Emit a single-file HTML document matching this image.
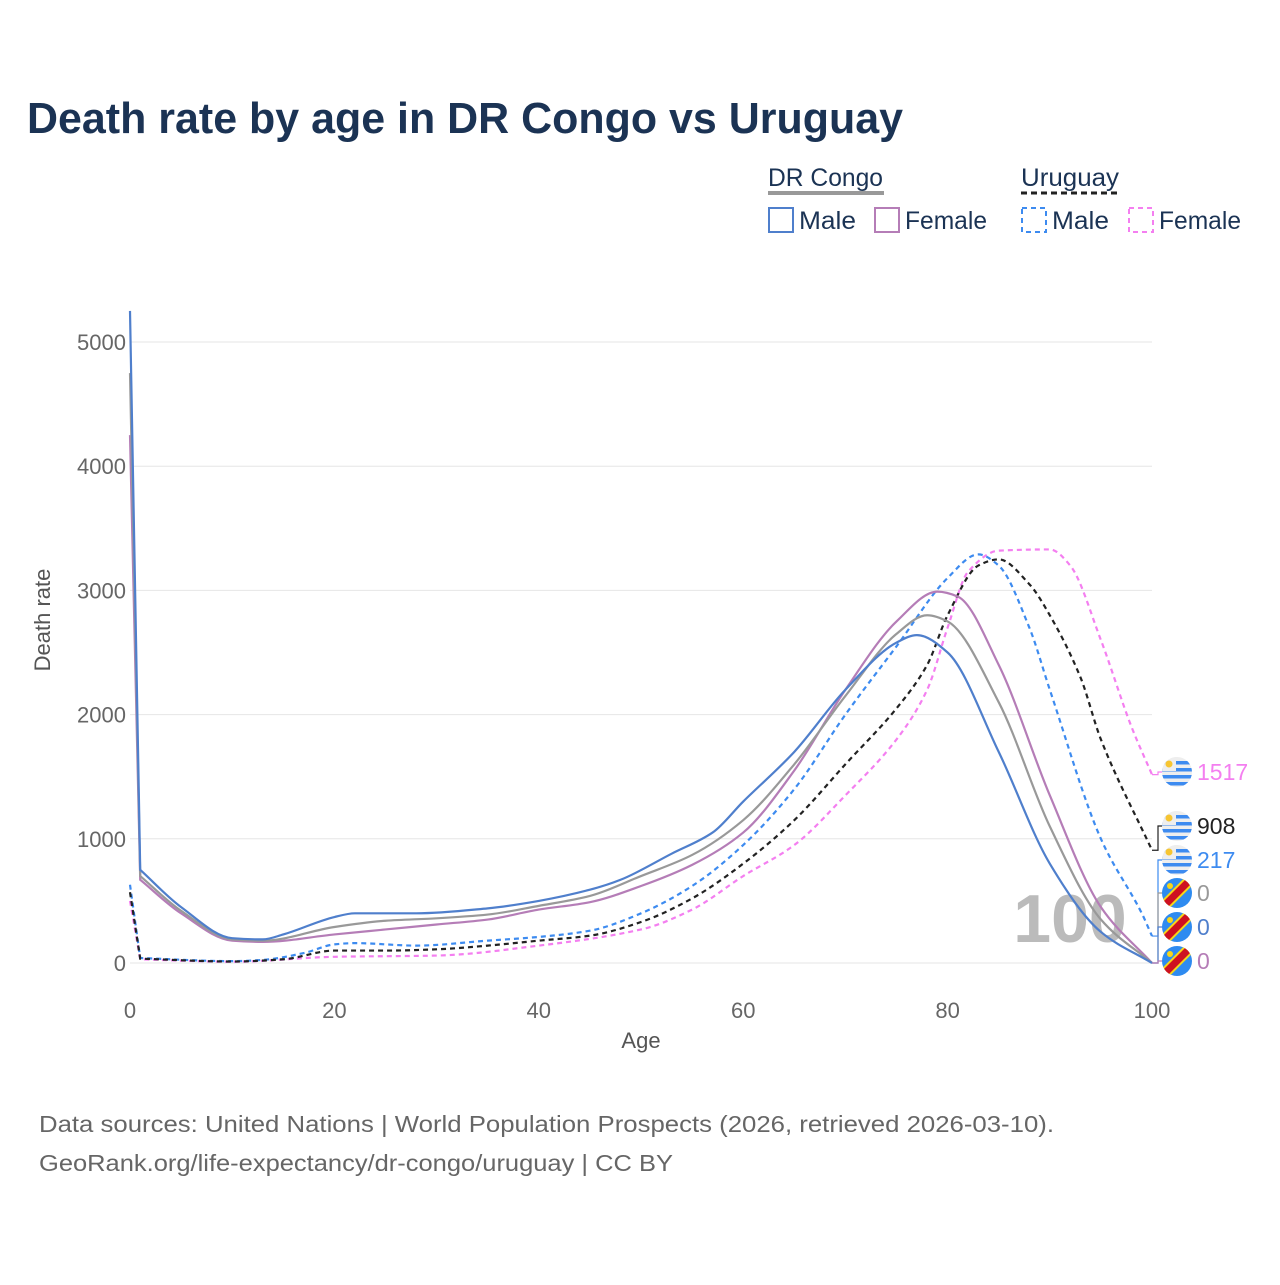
<!DOCTYPE html>
<html><head><meta charset="utf-8">
<style>
body{margin:0;background:#fff;font-family:"Liberation Sans",sans-serif;}
svg text{font-family:"Liberation Sans",sans-serif;}
</style></head>
<body>
<svg id="chart" width="1280" height="1280" xmlns="http://www.w3.org/2000/svg">
<defs id="defs"></defs>
<text x="27" y="133" font-size="44" font-weight="bold" fill="#1b3354" textLength="876" lengthAdjust="spacingAndGlyphs">Death rate by age in DR Congo vs Uruguay</text>
<g font-size="25" fill="#1b3354">
<text x="768" y="186" textLength="115" lengthAdjust="spacingAndGlyphs">DR Congo</text>
<line x1="768" y1="193" x2="884" y2="193" stroke="#999" stroke-width="4"/>
<text x="1021" y="186" textLength="98" lengthAdjust="spacingAndGlyphs">Uruguay</text>
<line x1="1021" y1="193" x2="1119" y2="193" stroke="#222" stroke-width="3" stroke-dasharray="6,4"/>
<g><rect x="769" y="208" width="24" height="24" fill="none" stroke="#4f7fcc" stroke-width="2"/><text x="799" y="229" textLength="57" lengthAdjust="spacingAndGlyphs">Male</text></g>
<g><rect x="875" y="208" width="24" height="24" fill="none" stroke="#b57db7" stroke-width="2"/><text x="905" y="229" textLength="82" lengthAdjust="spacingAndGlyphs">Female</text></g>
<g><rect x="1022" y="208" width="24" height="24" fill="none" stroke="#3d8bf0" stroke-width="2" stroke-dasharray="5,4"/><text x="1052" y="229" textLength="57" lengthAdjust="spacingAndGlyphs">Male</text></g>
<g><rect x="1129" y="208" width="24" height="24" fill="none" stroke="#f47ff0" stroke-width="2" stroke-dasharray="5,4"/><text x="1159" y="229" textLength="82" lengthAdjust="spacingAndGlyphs">Female</text></g>
</g>
<g id="grid"></g>
<text x="1070" y="942" font-size="68" font-weight="bold" fill="#bbb" text-anchor="middle">100</text>
<g id="series"></g>
<g id="labels"></g>
<text transform="translate(50,620) rotate(-90)" font-size="22" fill="#555" text-anchor="middle">Death rate</text>
<text x="641" y="1048" font-size="22" fill="#555" text-anchor="middle">Age</text>
<text x="39" y="1132" font-size="23" fill="#666" textLength="1015" lengthAdjust="spacingAndGlyphs">Data sources: United Nations | World Population Prospects (2026, retrieved 2026-03-10).</text>
<text x="39" y="1171" font-size="23" fill="#666" textLength="634" lengthAdjust="spacingAndGlyphs">GeoRank.org/life-expectancy/dr-congo/uruguay | CC BY</text>
</svg>
<script>
const yTicks=[0,1000,2000,3000,4000,5000];
const xTicks=[0,20,40,60,80,100];
const drcMaleAges=[0,1,5,10,13,15,20,22,28,35,40,45,48,53,57,60,65,70,75,77,80,85,90,95,100];
const drcMaleVals=[5250,750,450,200,190,230,370,400,400,440,500,590,670,880,1050,1300,1700,2200,2580,2640,2500,1700,800,250,0];
const drcTotalAges=[0,1,5,10,13,20,25,30,35,40,45,50,55,60,65,70,75,78,80,85,90,95,100];
const drcTotalVals=[4750,700,420,190,180,290,340,360,390,460,540,700,870,1150,1600,2150,2650,2800,2750,2100,1100,350,0];
const drcFemaleAges=[0,1,5,10,13,20,25,30,35,40,45,50,55,60,65,70,75,79,81,85,90,95,100];
const drcFemaleVals=[4250,670,400,180,170,230,270,310,350,430,490,620,790,1050,1550,2200,2750,2990,2950,2400,1350,450,0];
const uyMaleAges=[0,1,10,13,17,20,22,28,35,40,45,50,55,60,65,70,75,80,83,85,88,90,95,99,100];
const uyMaleVals=[630,40,15,25,80,150,160,140,180,210,260,400,620,950,1400,2000,2550,3100,3290,3200,2700,2200,1000,400,217];
const uyTotalAges=[0,1,10,15,20,25,30,35,40,45,50,55,60,65,70,75,78,80,83,85,88,90,93,95,100];
const uyTotalVals=[570,35,12,30,100,100,110,140,180,220,330,520,800,1150,1600,2050,2400,2800,3200,3250,3050,2800,2300,1800,908];
const uyFemaleAges=[0,1,10,20,30,40,50,55,60,65,70,75,78,80,82,85,90,92,95,98,100];
const uyFemaleVals=[500,30,10,50,60,140,270,430,700,950,1350,1800,2200,2700,3150,3320,3330,3200,2600,1900,1517];
const endValues=[1517,908,217,0,0,0];

const NS="http://www.w3.org/2000/svg";
const X=a=>130+a*10.22;
const Y=v=>963-v*0.1242;
function el(t,at,p){const e=document.createElementNS(NS,t);for(const k in at)e.setAttribute(k,at[k]);p.appendChild(e);return e;}
const grid=document.getElementById('grid');
yTicks.forEach(v=>{
 const l=el('line',{x1:130,x2:1152,y1:Y(v),y2:Y(v),stroke:'#e6e6e6','stroke-width':1},grid);
 
 
 const t=el('text',{x:126,y:Y(v)+8,'font-size':22,fill:'#666','text-anchor':'end'},grid);t.textContent=v;
 
 
});
xTicks.forEach(a=>{
 const t=el('text',{x:X(a),y:1018,'font-size':22,fill:'#666','text-anchor':'middle'},grid);t.textContent=a;
 
 
});
function path(ages,vals){
 const xs=ages.map(X), ys=vals.map(Y), n=xs.length;
 const d=[],m=new Array(n);
 for(let i=0;i<n-1;i++)d.push((ys[i+1]-ys[i])/(xs[i+1]-xs[i]));
 m[0]=d[0];m[n-1]=d[n-2];
 for(let i=1;i<n-1;i++){m[i]=(d[i-1]*d[i]<=0)?0:(2/(1/d[i-1]+1/d[i]));}
 m[1]=d[1];
 let s='M'+xs[0]+','+ys[0]+'L'+xs[1]+','+ys[1];
 for(let i=1;i<n-1;i++){
  const h=xs[i+1]-xs[i];
  s+=`C${xs[i]+h/3},${ys[i]+m[i]*h/3} ${xs[i+1]-h/3},${ys[i+1]-m[i+1]*h/3} ${xs[i+1]},${ys[i+1]}`;
 }
 return s;
}
const S=document.getElementById('series');
const series=[
 [uyFemaleAges,uyFemaleVals,'#f47ff0','5,4','uruguay-female-line'],
 [uyMaleAges,uyMaleVals,'#3d8bf0','5,4','uruguay-male-line'],
 [uyTotalAges,uyTotalVals,'#222','5,4','uruguay-total-line'],
 [drcFemaleAges,drcFemaleVals,'#b57db7','','drc-female-line'],
 [drcTotalAges,drcTotalVals,'#999','','drc-total-line'],
 [drcMaleAges,drcMaleVals,'#4f7fcc','','drc-male-line']];
series.forEach(s=>{
 const e=el('path',{d:path(s[0],s[1]),fill:'none',stroke:s[2],'stroke-width':2.2,'stroke-dasharray':s[3]||'none'},S);
 
 
});
const L=document.getElementById('labels');
const defs=document.getElementById('defs');
const labY=[772,826,860,893,927,961];
const labC=['#f47ff0','#222','#3d8bf0','#999','#4f7fcc','#b57db7'];
const flags=['uy','uy','uy','cd','cd','cd'];
const lastVals=[uyFemaleVals,uyTotalVals,uyMaleVals,drcTotalVals,drcMaleVals,drcFemaleVals].map(a=>a[a.length-1]);
labY.forEach((y,i)=>{
 el('polyline',{points:`${X(100)},${Y(lastVals[i])} 1158,${Y(lastVals[i])} 1158,${y} 1163,${y}`,fill:'none',stroke:labC[i],'stroke-width':1.2},L);
 const g=el('g',{},L);
 
 
 const cx=1177;
 const cp=el('clipPath',{id:'fc'+i},defs);el('circle',{cx:cx,cy:y,r:15},cp);
 const inner=el('g',{'clip-path':`url(#fc${i})`},g);
 if(flags[i]==='uy'){
  el('rect',{x:cx-15,y:y-15,width:30,height:30,fill:'#eeeeee'},inner);
  for(let k=0;k<4;k++)el('rect',{x:cx-15,y:y-11+k*7,width:30,height:3.5,fill:'#3d8bf0'},inner);
  el('rect',{x:cx-15,y:y-15,width:14,height:14,fill:'#eeeeee'},inner);
  el('circle',{cx:cx-8,cy:y-8,r:3.5,fill:'#f7c531'},inner);
 }else{
  el('rect',{x:cx-15,y:y-15,width:30,height:30,fill:'#2e8bf0'},inner);
  el('line',{x1:cx-18,y1:y+18,x2:cx+18,y2:y-18,stroke:'#f7d618','stroke-width':11},inner);
  el('line',{x1:cx-18,y1:y+18,x2:cx+18,y2:y-18,stroke:'#ce1021','stroke-width':7},inner);
  el('circle',{cx:cx-7,cy:y-7,r:3,fill:'#f7d618'},inner);
 }
 const t=el('text',{x:1197,y:y+8,'font-size':23,fill:labC[i]},L);t.textContent=endValues[i];
 
 
});
</script>
</body></html>
